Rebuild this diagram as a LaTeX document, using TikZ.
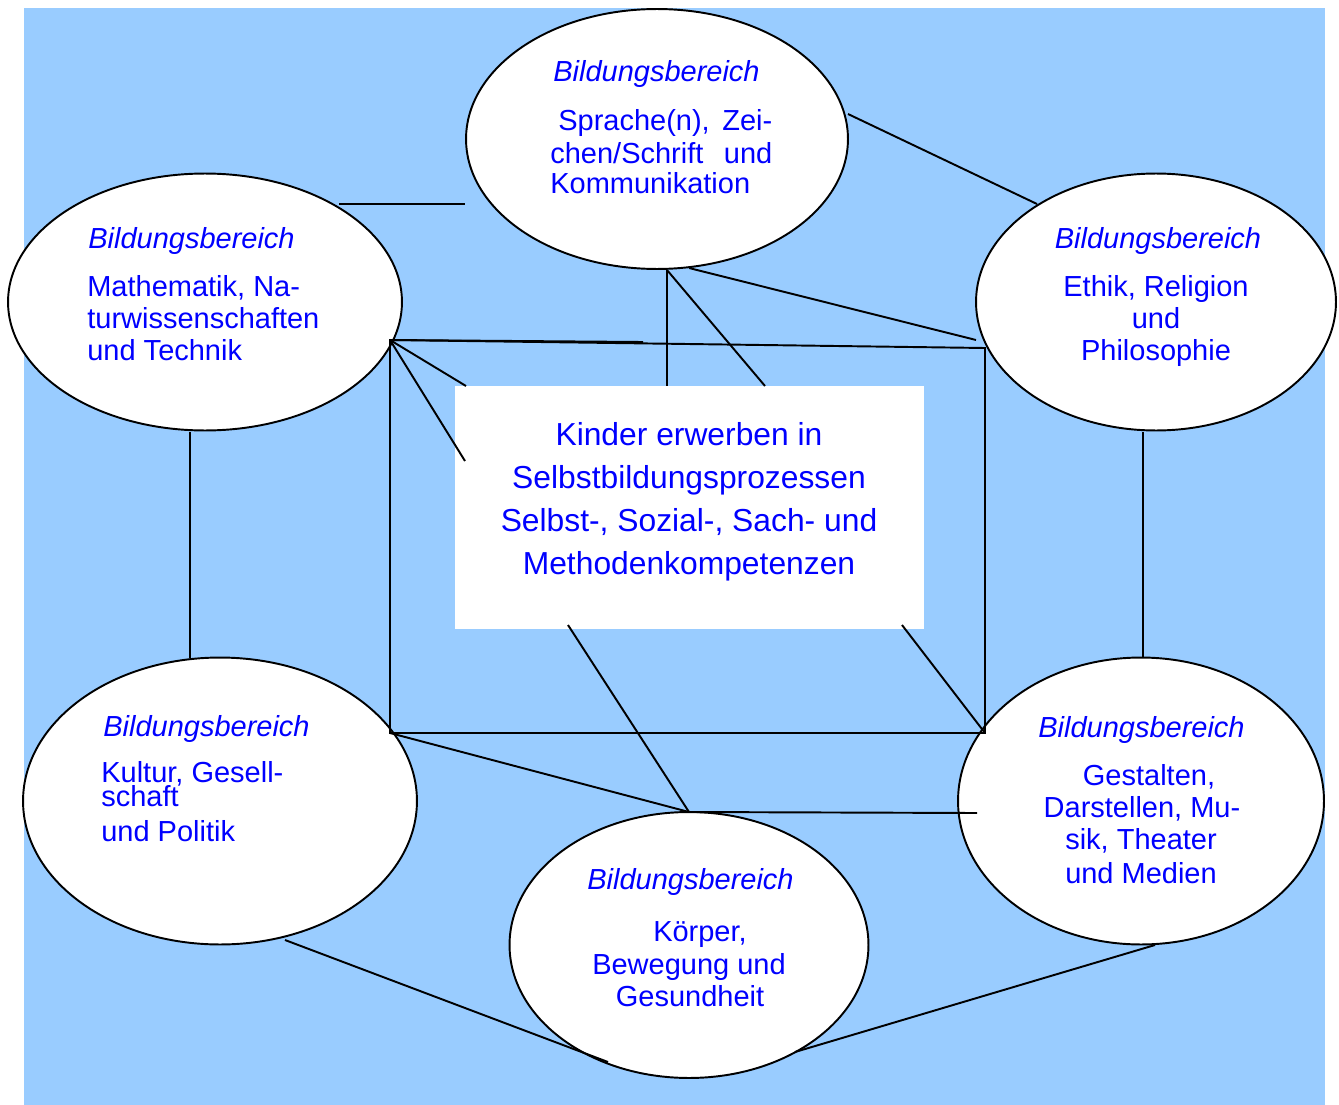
\documentclass[tikz,border=0pt]{standalone}
\usepackage{fontspec}
\setmainfont{Liberation Sans}
\usetikzlibrary{shapes.geometric}
\definecolor{bgblue}{HTML}{99CCFF}
\definecolor{txtblue}{HTML}{0000FF}
\begin{document}
\begin{tikzpicture}[x=0.02cm,y=-0.02cm,
  area/.style={ellipse,draw=black,line width=1.1pt,fill=white,inner sep=0pt,outer sep=0pt},
  lnk/.style={draw=black,line width=1.1pt},
  lbl/.style={inner sep=0pt,text=txtblue,font=\fontsize{16.5}{18}\selectfont},
  lblw/.style={lbl,anchor=base west},
  lblc/.style={lbl,anchor=base},
  head/.style={lblw,font=\fontsize{16.5}{18}\selectfont\itshape},
  headc/.style={lblc,font=\fontsize{16.5}{18}\selectfont\itshape},
  core/.style={inner sep=0pt,anchor=base,text=txtblue,font=\fontsize{18.1}{24}\selectfont}]
\useasboundingbox (0,0) rectangle (1339,1105);
\fill[bgblue] (24,8) rectangle (1325,1105);

% areas
\node[area,minimum width=7.64cm,minimum height=5.2cm] (top) at (657,139) {};
\node[area,minimum width=7.88cm,minimum height=5.14cm] (left) at (205,302) {};
\node[area,minimum width=7.2cm,minimum height=5.14cm] (right) at (1156,302) {};
\node[area,minimum width=7.88cm,minimum height=5.74cm] (bleft) at (220,801) {};
\node[area,minimum width=7.32cm,minimum height=5.74cm] (bright) at (1141,801) {};
\node[area,minimum width=7.18cm,minimum height=5.32cm] (bottom) at (689,945) {};

% central box
\node[fill=white,inner sep=0pt,minimum width=9.38cm,minimum height=4.86cm] (centre) at (689.5,507.5) {};

% coordinates
\coordinate (a1) at (339,204);  \coordinate (a2) at (465,204);
\coordinate (b1) at (848,114);  \coordinate (b2) at (1037,204);
\coordinate (c1) at (689,268);  \coordinate (c2) at (976,340);
\coordinate (d1) at (667,270);  \coordinate (d2) at (667,386);
\coordinate (d3) at (765,386);
\coordinate (tl) at (390,340);  \coordinate (tr) at (985,348);
\coordinate (bl) at (390,733);  \coordinate (br) at (985,733);
\coordinate (tm) at (643,342);
\coordinate (e1) at (466,386);  \coordinate (e2) at (465,461);
\coordinate (f1) at (190,432);  \coordinate (f2) at (190,658);
\coordinate (g1) at (1143,432); \coordinate (g2) at (1143,658);
\coordinate (hb) at (689,812);  \coordinate (hr) at (977,813);
\coordinate (i1) at (568,625);  \coordinate (i2) at (902,625);
\coordinate (j1) at (285,940);  \coordinate (j2) at (608,1062);
\coordinate (k1) at (795,1052); \coordinate (k2) at (1155,945);

% connectors
\draw[lnk] (a1) -- (a2);
\draw[lnk] (b1) -- (b2);
\draw[lnk] (c1) -- (c2);
\draw[lnk] (d1) -- (d2);
\draw[lnk] (d1) -- (d3);
\draw[lnk] (tl) -- (tr) -- (br) -- (bl) -- cycle;
\draw[lnk] (tl) -- (tm);
\draw[lnk] (tl) -- (e1);
\draw[lnk] (tl) -- (e2);
\draw[lnk] (f1) -- (f2);
\draw[lnk] (g1) -- (g2);
\draw[lnk] (bl) -- (hb);
\draw[lnk] (i1) -- (hb);
\draw[lnk] (i2) -- (br);
\draw[lnk] (hb) -- (hr);
\draw[lnk] (j1) -- (j2);
\draw[lnk] (k1) -- (k2);

% central texts
\node[core] (c_l1) at (689,445) {Kinder erwerben in};
\node[core] (c_l2) at (689,488) {Selbstbildungsprozessen};
\node[core] (c_l3) at (689,531) {Selbst-, Sozial-, Sach- und};
\node[core] (c_l4) at (689,574) {Methodenkompetenzen};

% top texts
\node[head] (t_h) at (553,82) {Bildungsbereich};
\node[lblw] (t_l1) at (558,131) {\makebox[4.28cm][s]{Sprache(n), Zei-}};
\node[lblw] (t_l2) at (550,163) {\makebox[4.44cm][s]{chen/Schrift\ \ und}};
\node[lblw] (t_l3) at (550,194) {Kommunikation};

% left texts
\node[head] (l_h) at (88,248) {Bildungsbereich};
\node[lblw] (l_l1) at (87,296) {Mathematik, Na-};
\node[lblw] (l_l2) at (87,328) {turwissenschaften};
\node[lblw] (l_l3) at (87,360) {und Technik};

% right texts
\node[headc] (r_h) at (1158,248) {Bildungsbereich};
\node[lblc] (r_l1) at (1156,296) {Ethik, Religion};
\node[lblc] (r_l2) at (1156,328) {und};
\node[lblc] (r_l3) at (1156,360) {Philosophie};

% bottom-left texts
\node[head] (bl_h) at (103,736) {Bildungsbereich};
\node[lblw] (bl_l1) at (101,782) {Kultur, Gesell-};
\node[lblw] (bl_l2) at (101,806) {schaft};
\node[lblw] (bl_l3) at (101,841) {und Politik};

% bottom-right texts
\node[head] (br_h) at (1038,737) {Bildungsbereich};
\node[lblc] (br_l1) at (1149,785) {Gestalten,};
\node[lblc] (br_l2) at (1142,817) {Darstellen, Mu-};
\node[lblc] (br_l3) at (1141,849) {sik, Theater};
\node[lblc] (br_l4) at (1141,883) {und Medien};

% bottom texts
\node[head] (b_h) at (587,889) {Bildungsbereich};
\node[lblc] (b_l1) at (700,941) {Körper,};
\node[lblc] (b_l2) at (689,974) {Bewegung und};
\node[lblc] (b_l3) at (690,1006) {Gesundheit};
\end{tikzpicture}
\end{document}
